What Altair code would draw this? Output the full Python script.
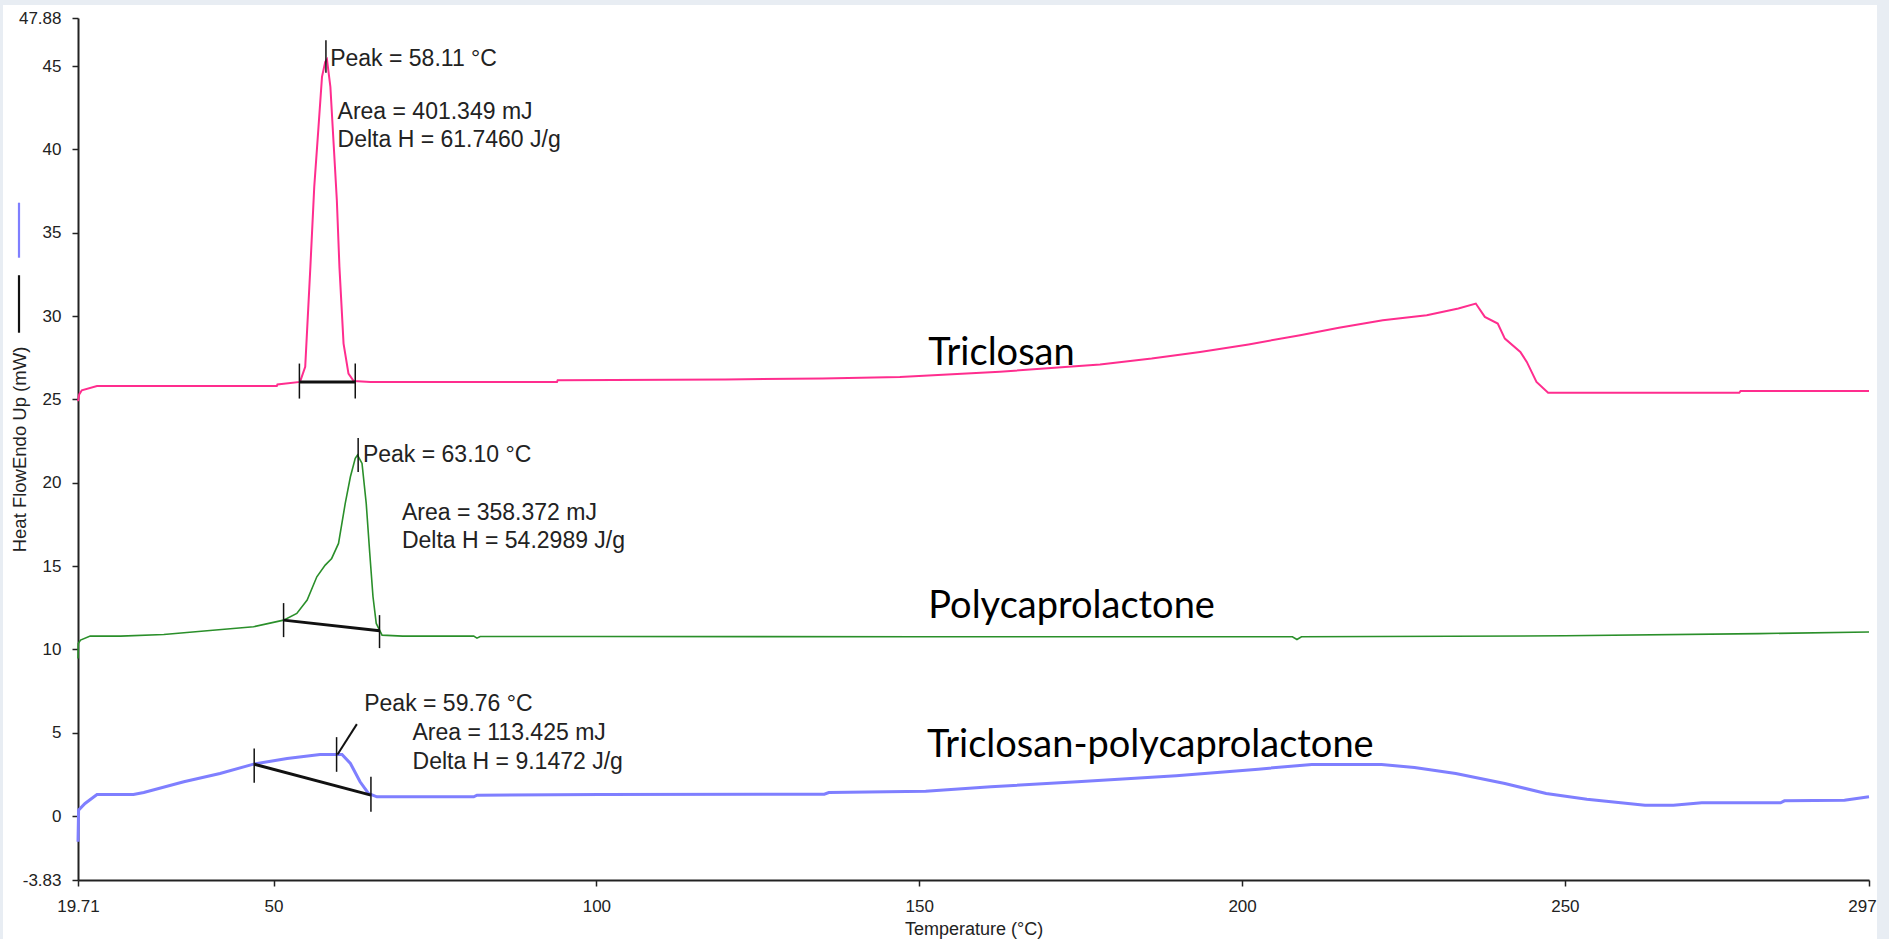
import altair as alt
import pandas as pd

# ---------------- data ----------------
tri_T = [19.71, 19.9, 20.3, 22.65, 50.5, 50.6, 54.1, 54.9, 55.7, 56.3, 56.96, 57.5, 58.0, 58.27,
         58.8, 59.3, 59.8, 60.2, 60.84, 61.6, 62.4, 65.0, 93.9, 94.0, 120.0, 135.0, 147.0, 162.5,
         178.0, 186.0, 193.5, 201.0, 209.0, 215.0, 221.8, 228.6, 233.5, 236.2, 237.6, 239.6, 240.7,
         243.1, 244.1, 245.6, 247.4, 277.0, 277.2, 297.1]
tri_v = [24.9, 25.3, 25.55, 25.8, 25.8, 25.9, 26.05, 26.95, 32.95, 37.75, 41.35, 44.35, 45.25, 45.4,
         43.75, 40.35, 36.95, 32.95, 28.35, 26.55, 26.1, 26.05, 26.05, 26.15, 26.2, 26.25, 26.35, 26.66,
         27.1, 27.45, 27.85, 28.3, 28.85, 29.3, 29.75, 30.05, 30.45, 30.75, 29.95, 29.55, 28.65,
         27.85, 27.25, 26.05, 25.4, 25.4, 25.5, 25.5]

pcl_T = [19.71, 19.75, 20.1, 21.6, 26.3, 33.0, 39.7, 46.9, 51.55, 53.6, 55.2, 56.7, 58.0, 59.0,
         60.06, 61.1, 61.9, 62.65, 63.0, 63.7, 64.35, 64.9, 65.4, 65.9, 66.8, 70.0, 81.0, 81.5,
         82.0, 100.0, 150.0, 207.8, 208.5, 209.2, 250.0, 280.0, 297.1]
pcl_v = [9.46, 10.36, 10.56, 10.8, 10.8, 10.9, 11.12, 11.36, 11.76, 12.16, 12.96, 14.36, 15.06, 15.46,
         16.36, 18.76, 20.36, 21.46, 21.66, 21.16, 18.76, 15.76, 13.16, 11.56, 10.86, 10.8, 10.8, 10.68,
         10.78, 10.78, 10.76, 10.76, 10.6, 10.76, 10.82, 10.95, 11.05]

mix_T = [19.71, 19.8, 20.8, 22.65, 28.3, 29.9, 36.1, 41.7, 46.9, 52.1, 57.2, 60.6, 61.9, 63.4,
         64.7, 66.0, 81.0, 81.5, 100.6, 135.3, 136.0, 151.0, 161.1, 174.5, 189.8, 202.5, 210.8,
         221.6, 226.7, 233.1, 240.7, 247.1, 253.4, 262.4, 266.8, 271.2, 283.4, 284.0, 293.3, 297.1]
mix_v = [-1.54, 0.36, 0.76, 1.3, 1.3, 1.42, 2.06, 2.56, 3.12, 3.46, 3.7, 3.7, 3.16, 2.06,
         1.36, 1.16, 1.16, 1.26, 1.3, 1.32, 1.42, 1.5, 1.76, 2.06, 2.42, 2.82, 3.1,
         3.1, 2.92, 2.56, 1.96, 1.36, 1.02, 0.66, 0.66, 0.8, 0.8, 0.92, 0.96, 1.16]

x_ticks = [19.71, 50, 100, 150, 200, 250, 297.1]
y_ticks = [47.88, 45, 40, 35, 30, 25, 20, 15, 10, 5, 0, -3.83]

# analysis marks (vertical ticks, baselines, leader)
tick_T = [54.0, 62.65, 58.11, 51.55, 66.41, 63.10, 47.0, 65.08, 59.76]
tick_v1 = [25.05, 25.05, 44.6, 10.74, 10.08, 20.64, 2.0, 0.26, 2.66]
tick_v2 = [27.15, 27.15, 46.55, 12.78, 12.06, 22.68, 4.06, 2.36, 4.74]
base_T1 = [54.0, 51.55, 47.0]
base_T2 = [62.65, 66.41, 65.08]
base_v1 = [26.05, 11.76, 3.12]
base_v2 = [26.05, 11.12, 1.26]
lead_T1, lead_T2, lead_v1, lead_v2 = [59.9], [62.9], [3.7], [5.52]

ann_text = ["Peak = 58.11 °C", "Area = 401.349 mJ", "Delta H = 61.7460 J/g",
            "Peak = 63.10 °C", "Area = 358.372 mJ", "Delta H = 54.2989 J/g",
            "Peak = 59.76 °C", "Area = 113.425 mJ", "Delta H = 9.1472 J/g"]
ann_T = [58.77, 59.91, 59.91, 63.84, 69.88, 69.88, 64.04, 71.52, 71.52]
ann_v = [45.45, 42.25, 40.55, 21.66, 18.2, 16.51, 6.7, 4.96, 3.26]

lab_text = ["Triclosan", "Polycaprolactone", "Triclosan-polycaprolactone"]
lab_T = [151.4, 151.4, 151.2]
lab_v = [27.05, 11.88, 3.52]

# y-axis key segments (blue / black)
key_color = ["#7f7fff", "#111111"]
key_v1 = [36.8, 32.45]
key_v2 = [33.5, 29.0]

# ---------------- chart ----------------
W, H = 1791, 862
xs = alt.Scale(domain=[19.71, 297.1], nice=False, zero=False)
ys = alt.Scale(domain=[-3.83, 47.88], nice=False, zero=False)

x_axis = alt.Axis(values=x_ticks, labelExpr="'' + datum.value", grid=False,
                  domainColor="#222222", domainWidth=2, tickColor="#222222", tickWidth=1.5,
                  tickSize=6, labelFont="Liberation Sans", labelFontSize=17, labelColor="#222222",
                  labelPadding=12, labelFlush=False, labelOverlap=False,
                  title="Temperature (°C)", titleFont="Liberation Sans", titleFontSize=18,
                  titleFontWeight="normal", titleColor="#222222", titlePadding=6)
y_axis = alt.Axis(values=y_ticks, labelExpr="'' + datum.value", grid=False,
                  domainColor="#222222", domainWidth=2, tickColor="#222222", tickWidth=1.5,
                  tickSize=6, labelFont="Liberation Sans", labelFontSize=17, labelColor="#222222",
                  labelPadding=11, labelFlush=False, labelOverlap=False,
                  title="Heat FlowEndo Up (mW)", titleFont="Liberation Sans", titleFontSize=18.5,
                  titleFontWeight="normal", titleColor="#222222", titleAngle=-90,
                  titleX=-59, titleY=H / 2, titleAlign="center", titleBaseline="middle")


def curve(T, v, color, width):
    df = pd.DataFrame({"T": T, "v": v})
    return alt.Chart(df).mark_line(color=color, strokeWidth=width, interpolate="linear").encode(
        x=alt.X("T:Q", scale=xs, axis=x_axis), y=alt.Y("v:Q", scale=ys, axis=y_axis), order="T:Q")


tri = curve(tri_T, tri_v, "#ff2d8e", 2)
pcl = curve(pcl_T, pcl_v, "#2a8f2a", 1.6)
mix = curve(mix_T, mix_v, "#7f7fff", 3)

ticks = alt.Chart(pd.DataFrame({"T": tick_T, "v1": tick_v1, "v2": tick_v2})).mark_rule(
    color="#111111", strokeWidth=1.5).encode(x=alt.X("T:Q", scale=xs), y=alt.Y("v1:Q", scale=ys), y2="v2:Q")
bases = alt.Chart(pd.DataFrame({"T1": base_T1, "T2": base_T2, "v1": base_v1, "v2": base_v2})).mark_rule(
    color="#111111", strokeWidth=3).encode(x=alt.X("T1:Q", scale=xs), x2="T2:Q",
                                          y=alt.Y("v1:Q", scale=ys), y2="v2:Q")
lead = alt.Chart(pd.DataFrame({"T1": lead_T1, "T2": lead_T2, "v1": lead_v1, "v2": lead_v2})).mark_rule(
    color="#111111", strokeWidth=2).encode(x=alt.X("T1:Q", scale=xs), x2="T2:Q",
                                          y=alt.Y("v1:Q", scale=ys), y2="v2:Q")

ann = alt.Chart(pd.DataFrame({"t": ann_text, "T": ann_T, "v": ann_v})).mark_text(
    align="left", baseline="middle", font="Liberation Sans", fontSize=23, color="#222222").encode(
    x=alt.X("T:Q", scale=xs), y=alt.Y("v:Q", scale=ys), text="t:N")

labels = alt.Chart(pd.DataFrame({"t": lab_text, "T": lab_T, "v": lab_v})).mark_text(
    align="left", baseline="alphabetic", font="Lato", fontSize=38, color="#000000").encode(
    x=alt.X("T:Q", scale=xs), y=alt.Y("v:Q", scale=ys), text="t:N")

keys = alt.Chart(pd.DataFrame({"c": key_color, "v1": key_v1, "v2": key_v2})).mark_rule(
    strokeWidth=2.2).encode(x=alt.value(-59), y=alt.Y("v1:Q", scale=ys), y2="v2:Q",
                            color=alt.Color("c:N", scale=None))

frame_color = "#e8edf3"
frame_top = alt.Chart(pd.DataFrame({"a": [0]})).mark_rect(color=frame_color).encode(
    x=alt.value(-78), x2=alt.value(W + 20), y=alt.value(-18), y2=alt.value(-13))
frame_left = alt.Chart(pd.DataFrame({"a": [0]})).mark_rect(color=frame_color).encode(
    x=alt.value(-78), x2=alt.value(-75), y=alt.value(-18), y2=alt.value(H + 59))
frame_right = alt.Chart(pd.DataFrame({"a": [0]})).mark_rect(color=frame_color).encode(
    x=alt.value(W + 8), x2=alt.value(W + 20), y=alt.value(-18), y2=alt.value(H + 59))

chart = alt.layer(tri, pcl, mix, bases, ticks, lead, ann, labels, keys,
                  frame_top, frame_left, frame_right).properties(
    width=W, height=H,
    autosize=alt.AutoSizeParams(type="none"),
    padding={"left": 78, "top": 18, "right": 20, "bottom": 59},
    background="white",
).configure_view(stroke=None)

chart.save("out.html", embed_options={"renderer": "svg", "actions": False})
